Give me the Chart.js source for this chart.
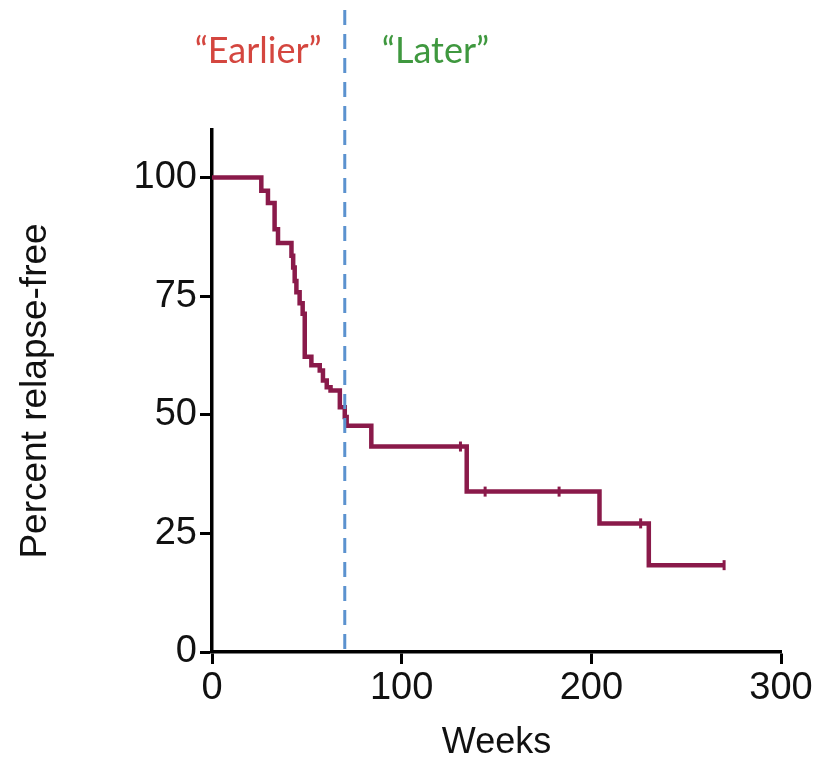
<!DOCTYPE html>
<html>
<head>
<meta charset="utf-8">
<script src="https://cdn.jsdelivr.net/npm/chart.js@4/dist/chart.umd.min.js"></script>
<style>
    body { margin: 0; background: #fff; }
    #wrap { width: 825px; height: 765px; }
</style>
</head>
<body>
<div id="wrap"><canvas id="km"></canvas></div>
<script>
// Kaplan-Meier steps (weeks, percent relapse-free)
const eventWeeks   = [0, 26, 29.5, 33, 34.8, 41.9, 42.8, 43.6, 44.5, 46.2, 47.8, 48.9, 52.4, 56.8, 58.5, 60.5, 62.5, 67.4, 70, 71, 84, 134.3, 204.3, 230.3, 270];
const eventPercent = [100, 97.2, 94.6, 89.1, 86.2, 83.5, 81.0, 78.2, 75.8, 73.5, 71.3, 62.2, 60.4, 59.3, 57.2, 55.8, 55.1, 51.6, 49.5, 47.7, 43.3, 33.8, 27.1, 18.3, 18.3];

// censored observations
const censorWeeks   = [131, 144, 183, 226, 270];
const censorPercent = [43.3, 33.8, 33.8, 27.1, 18.3];

const xTicks = [0, 100, 200, 300];
const yTicks = [0, 25, 50, 75, 100];
const splitWeek = 70;
const groupLabels = ['\u201CEarlier\u201D', '\u201CLater\u201D'];

const curveColor = '#8a1a4a';

const splitPlugin = {
    id: 'split',
    afterDatasetsDraw(chart) {
        const ctx = chart.ctx;
        const x = chart.scales.x.getPixelForValue(splitWeek);
        const bottom = chart.chartArea.bottom;

        ctx.save();
        ctx.strokeStyle = '#5b92cf';
        ctx.lineWidth = 3;
        ctx.setLineDash([15, 9]);
        ctx.beginPath();
        ctx.moveTo(x, 10);
        ctx.lineTo(x, bottom);
        ctx.stroke();

        ctx.font = '36px Lato';
        ctx.textBaseline = 'middle';
        ctx.fillStyle = '#d4463f';
        ctx.textAlign = 'right';
        ctx.fillText(groupLabels[0], x - 23, 51);
        ctx.fillStyle = '#3f983f';
        ctx.textAlign = 'left';
        ctx.fillText(groupLabels[1], x + 37, 51);
        ctx.restore();
    }
};

const ctx = document.getElementById('km').getContext('2d');

new Chart(ctx, {
    type: 'scatter',
    data: {
        datasets: [{
            label: 'Relapse-free',
            data: eventWeeks.map((w, i) => ({x: w, y: eventPercent[i]})),
            showLine: true,
            stepped: 'before',
            borderColor: curveColor,
            borderWidth: 4.5,
            pointRadius: 0,
            fill: false
        }, {
            label: 'Censored',
            data: censorWeeks.map((w, i) => ({x: w, y: censorPercent[i]})),
            pointStyle: 'line',
            rotation: 90,
            pointRadius: 5,
            borderColor: curveColor,
            borderWidth: 3
        }]
    },
    options: {
        responsive: true,
        maintainAspectRatio: false,
        animation: false,
        layout: {
            padding: {top: 130, right: 44, left: 0, bottom: 0}
        },
        plugins: {
            legend: {display: false},
            tooltip: {enabled: false}
        },
        scales: {
            x: {
                type: 'linear',
                min: 0,
                max: 300,
                afterBuildTicks: s => { s.ticks = xTicks.map(v => ({value: v})); },
                afterFit: s => { s.height = 113; },
                border: {display: true, color: '#000', width: 3.5},
                grid: {display: true, drawOnChartArea: false, drawTicks: true, tickLength: 12, tickWidth: 3, tickColor: '#000'},
                ticks: {
                    color: '#111',
                    padding: 2,
                    maxRotation: 0,
                    font: {family: 'Liberation Sans, Arial', size: 38}
                },
                title: {
                    display: true,
                    text: 'Weeks',
                    color: '#111',
                    padding: {top: 5, bottom: 0},
                    font: {family: 'Liberation Sans, Arial', size: 36}
                }
            },
            y: {
                type: 'linear',
                min: 0,
                max: 110,
                afterBuildTicks: s => { s.ticks = yTicks.map(v => ({value: v})); },
                afterFit: s => { s.width = 212; },
                border: {display: true, color: '#000', width: 3.5},
                grid: {display: true, drawOnChartArea: false, drawTicks: true, tickLength: 12, tickWidth: 3, tickColor: '#000'},
                ticks: {
                    color: '#111',
                    padding: 3,
                    font: {family: 'Liberation Sans, Arial', size: 38}
                },
                title: {
                    display: true,
                    text: 'Percent relapse-free',
                    color: '#111',
                    padding: {top: 14, bottom: 0},
                    font: {family: 'Liberation Sans, Arial', size: 37}
                }
            }
        }
    },
    plugins: [splitPlugin]
});
</script>
</body>
</html>
